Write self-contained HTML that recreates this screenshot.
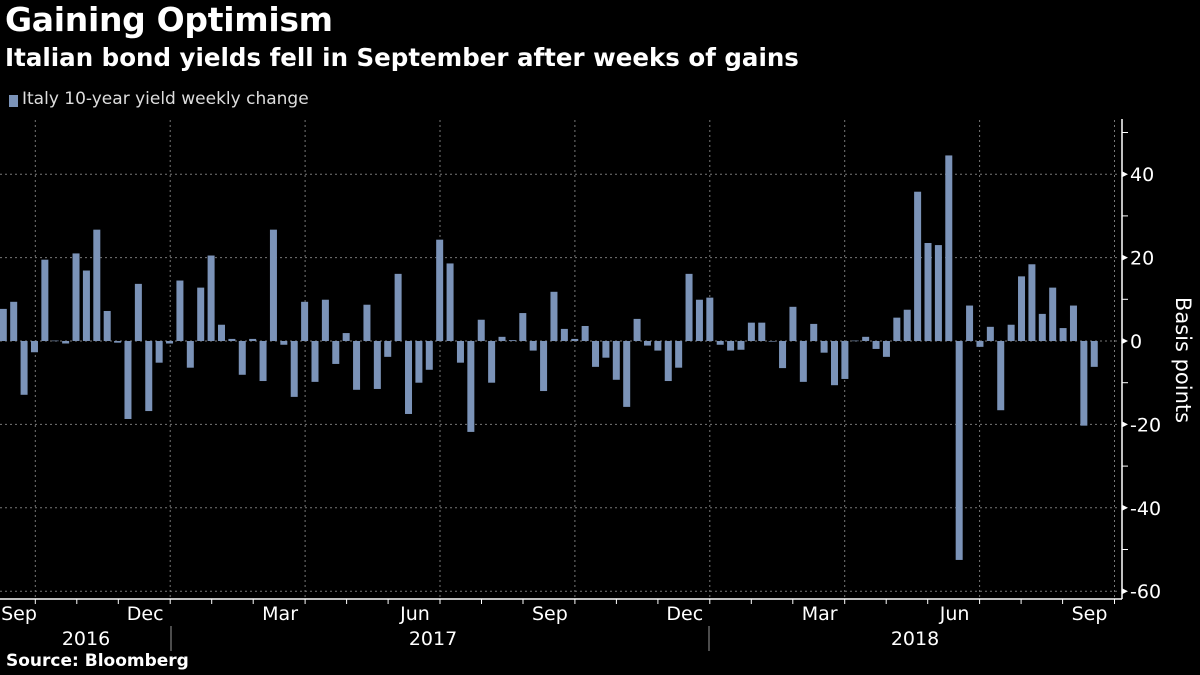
<!DOCTYPE html>
<html><head><meta charset="utf-8"><style>
body{margin:0;background:#000;width:1200px;height:675px;overflow:hidden;font-family:"DejaVu Sans","Liberation Sans",sans-serif;color:#fff}
.t{position:absolute;white-space:nowrap}
</style></head><body>
<div class="t" style="left:5px;top:0px;font-size:33px;font-weight:bold;letter-spacing:-0.3px">Gaining Optimism</div>
<div class="t" style="left:5px;top:43px;font-size:24.5px;font-weight:bold">Italian bond yields fell in September after weeks of gains</div>
<div style="position:absolute;left:9px;top:95px;width:9px;height:12px;background:#7b93b8"></div>
<div class="t" style="left:22px;top:89px;font-size:17px;color:#ddd">Italy 10-year yield weekly change</div>
<div class="t" style="left:6px;top:651px;font-size:17px;font-weight:bold">Source: Bloomberg</div>
<svg id="c" width="1200" height="675" style="position:absolute;left:0;top:0"></svg>
<script>
const values=[7.7,9.4,-12.9,-2.7,19.5,0.1,-0.6,21,16.9,26.7,7.2,-0.4,-18.7,13.7,-16.8,-5.2,-0.6,14.5,-6.4,12.8,20.5,3.9,0.5,-8.1,0.5,-9.6,26.7,-0.9,-13.4,9.4,-9.8,9.9,-5.5,1.9,-11.7,8.7,-11.5,-3.8,16.1,-17.5,-10,-6.9,24.3,18.6,-5.2,-21.8,5.1,-10,1,0.2,6.7,-2.3,-12,11.8,2.9,0.5,3.6,-6.2,-4,-9.3,-15.8,5.3,-1.1,-2.3,-9.6,-6.4,16.1,9.9,10.4,-0.9,-2.3,-2.1,4.4,4.4,0,-6.5,8.2,-9.8,4.1,-2.8,-10.6,-9.1,0.1,1,-1.9,-3.8,5.6,7.5,35.8,23.5,23,44.5,-52.5,8.5,-1.4,3.4,-16.6,3.9,15.5,18.4,6.5,12.8,3.1,8.5,-20.3,-6.2];
const yTicks=[40,20,0,-20,-40,-60];
const monthLabels=["Sep","Dec","Mar","Jun","Sep","Dec","Mar","Jun","Sep"];
const yearLabels=["2016","2017","2018"];
const svg=document.getElementById('c');const NS='http://www.w3.org/2000/svg';
function el(t,a,p){const e=document.createElementNS(NS,t);for(const k in a)e.setAttribute(k,a[k]);(p||svg).appendChild(e);return e;}
const y=v=>341-v*4.17;
const x=i=>3.3+i*10.39;
const gx=k=>35.3+k*134.9;
yTicks.forEach(v=>{const l=el('line',{x1:0,x2:1120,y1:y(v),y2:y(v),stroke:'#777','stroke-dasharray':'2,3','stroke-width':1});

});
for(let v=50;v>=-50;v-=20){const t=el('line',{x1:1122,x2:1128,y1:y(v),y2:y(v),stroke:'#fff'});

}
monthLabels.forEach((m,k)=>{const g=gx(k);
const l=el('line',{x1:g,x2:g,y1:120,y2:598,stroke:'#777','stroke-dasharray':'2,3'});


[0,41.5,83].forEach(d=>{if(g+d<1122){const t=el('line',{x1:g+d,x2:g+d,y1:599,y2:604,stroke:'#fff'});

}});
const cx=k===0?19:g-25;
const tx=el('text',{x:cx,y:620,'text-anchor':'middle',fill:'#fff','font-size':19,'font-family':'DejaVu Sans, sans-serif'});tx.textContent=m;

});
values.forEach((v,i)=>{const r=el('rect',{x:x(i)-3.5,width:7,y:Math.min(y(v),y(0)),height:Math.max(Math.abs(y(v)-y(0)),0.6),fill:'#7b93b8'});

});
let a=el('line',{x1:0,x2:1122,y1:599,y2:599,stroke:'#fff','stroke-width':1.5});


a=el('line',{x1:1122,x2:1122,y1:119,y2:599,stroke:'#fff','stroke-width':1.5});


yTicks.forEach(v=>{const p=el('path',{d:`M1122 ${y(v)-3}L1128 ${y(v)}L1122 ${y(v)+3}Z`,fill:'#fff'});


const t=el('text',{x:1130,y:y(v)+7,fill:'#fff','font-size':19,'font-family':'DejaVu Sans, sans-serif'});t.textContent=v;

});
[86,433,915].forEach((px,k)=>{const t=el('text',{x:px,y:645,'text-anchor':'middle',fill:'#fff','font-size':19,'font-family':'DejaVu Sans, sans-serif'});t.textContent=yearLabels[k];

});
[171,709].forEach(px=>{const s=el('line',{x1:px,x2:px,y1:626,y2:651,stroke:'#999'});

});
const yt=el('text',{x:0,y:0,transform:'translate(1176,360) rotate(90)','text-anchor':'middle',fill:'#fff','font-size':21,'font-family':'DejaVu Sans, sans-serif'});yt.textContent='Basis points';


</script>
</body></html>
